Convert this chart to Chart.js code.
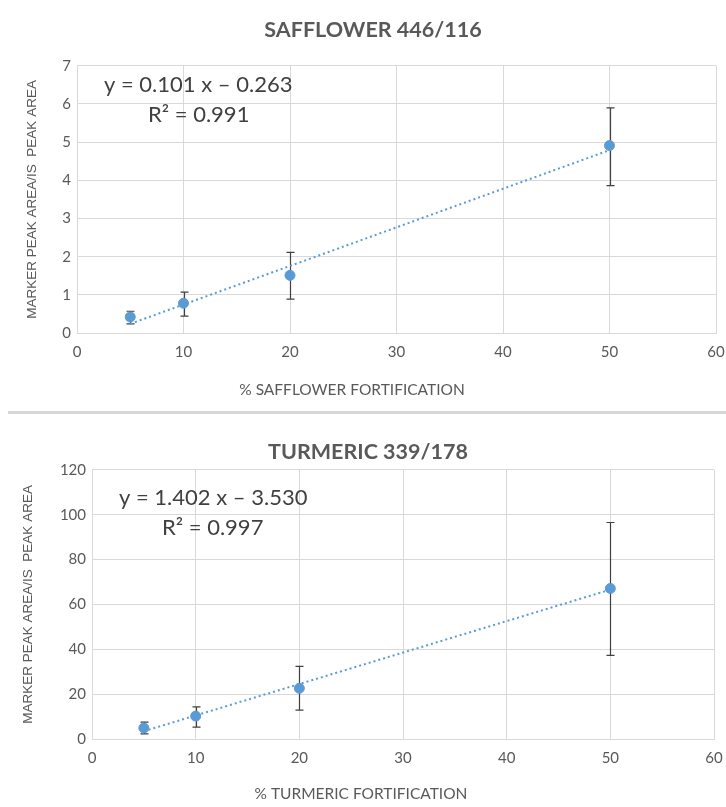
<!DOCTYPE html>
<html>
<head>
<meta charset="utf-8">
<script src="https://cdn.jsdelivr.net/npm/chart.js@4/dist/chart.umd.min.js"></script>
<style>
  html, body { margin: 0; padding: 0; background: #fff; }
  #wrap { position: relative; width: 726px; height: 807px; overflow: hidden; }
  #top { position: absolute; left: 0; top: 0; }
  #bottom { position: absolute; left: 0; top: 415px; }
  #sep { position: absolute; left: 8px; top: 411px; width: 718px; height: 3px; background: #d6d6d6; }
</style>
</head>
<body>
<div id="wrap">
  <canvas id="top" width="726" height="412"></canvas>
  <div id="sep"></div>
  <canvas id="bottom" width="726" height="392"></canvas>
</div>
<script>
'use strict';

// % fortification levels (x)
var fortification = [5, 10, 20, 50];

// safflower 446/116 ratio, mean and error bar ends
var saffMean = [0.42, 0.78, 1.51, 4.91];
var saffLow = [0.24, 0.44, 0.89, 3.86];
var saffHigh = [0.57, 1.07, 2.11, 5.90];
var saffTrendX = [5, 50];
var saffTrendY = [0.24, 4.79];

// turmeric 339/178 ratio
var turmMean = [4.9, 10.2, 22.6, 67.1];
var turmLow = [2.3, 5.3, 12.9, 37.3];
var turmHigh = [7.5, 14.3, 32.4, 96.5];
var turmTrendX = [5, 50];
var turmTrendY = [3.48, 66.57];

var xTicks = [0, 10, 20, 30, 40, 50, 60];

var BLUE = '#5b9bd5';
var GRID = '#d9d9d9';
var TEXT = '#595959';

function pts(xs, ys) {
  return xs.map(function (x, i) { return { x: x, y: ys[i] }; });
}

// error bars under the points, equation text + x title on top
var extras = {
  id: 'extras',
  beforeDatasetsDraw: function (chart, args, opts) {
    var c = chart.ctx, xs = chart.scales.x, ys = chart.scales.y;
    c.save();
    c.strokeStyle = '#404040';
    c.lineWidth = 1.2;
    opts.low.forEach(function (lo, i) {
      var px = Math.round(xs.getPixelForValue(fortification[i])) + 0.5;
      var y1 = ys.getPixelForValue(lo);
      var y2 = ys.getPixelForValue(opts.high[i]);
      c.beginPath();
      c.moveTo(px, y1); c.lineTo(px, y2);
      c.moveTo(px - 4, y1); c.lineTo(px + 4, y1);
      c.moveTo(px - 4, y2); c.lineTo(px + 4, y2);
      c.stroke();
    });
    c.restore();
  },
  afterDraw: function (chart, args, opts) {
    var c = chart.ctx;
    c.save();
    c.fillStyle = '#404040';
    c.font = '22px Lato';
    c.textBaseline = 'middle';
    c.textAlign = 'left';
    c.fillText(opts.eq, opts.eqX, opts.eqY);
    c.fillText(opts.r2, opts.r2X, opts.r2Y);
    // x axis title sits left of the plot centre, as in the original
    c.fillStyle = TEXT;
    c.font = '15.5px Lato';
    c.textAlign = 'center';
    c.fillText(opts.xTitle, opts.xTitleX, opts.xTitleY);
    c.restore();
  }
};

function makeChart(id, o) {
  var ctx = document.getElementById(id).getContext('2d');
  return new Chart(ctx, {
    type: 'scatter',
    data: {
      datasets: [{
        label: 'mean',
        data: pts(fortification, o.mean),
        backgroundColor: BLUE,
        borderColor: BLUE,
        pointRadius: 5,
        order: 1
      }, {
        label: 'trend',
        type: 'line',
        data: pts(o.trendX, o.trendY),
        borderColor: BLUE,
        borderWidth: 2,
        borderDash: [2, 3],
        pointRadius: 0,
        fill: false,
        order: 2
      }]
    },
    options: {
      responsive: false,
      animation: false,
      devicePixelRatio: 1,
      layout: { padding: { left: o.padLeft, right: o.padRight, top: 0, bottom: 0 } },
      plugins: {
        legend: { display: false },
        tooltip: { enabled: false },
        title: {
          display: true,
          text: o.title,
          color: TEXT,
          font: { family: 'Lato', size: 21.5, weight: 'bold' },
          padding: { top: o.titleTop, bottom: o.titleBottom }
        },
        extras: o.notes
      },
      scales: {
        x: {
          type: 'linear',
          min: 0, max: 60,
          afterBuildTicks: function (s) { s.ticks = xTicks.map(function (v) { return { value: v }; }); },
          afterFit: function (s) {
            s.height = o.xHeight;
            s.paddingLeft = 0;
            s.paddingRight = 0;
          },
          grid: { color: GRID, drawTicks: false },
          border: { color: GRID },
          ticks: { color: TEXT, padding: 10, font: { family: 'Lato', size: 15 } }
        },
        y: {
          min: 0, max: o.yMax,
          afterFit: function (s) { s.width = o.yWidth; },
          grid: { color: GRID, drawTicks: false },
          border: { color: GRID },
          ticks: { stepSize: o.yStep, color: TEXT, padding: 6, font: { family: 'Lato', size: 15 } },
          title: {
            display: true,
            text: 'MARKER PEAK AREA/IS  PEAK AREA',
            color: TEXT,
            font: { family: 'Liberation Sans', size: 13.5 },
            padding: { top: o.yTitleTop, bottom: 0 }
          }
        }
      }
    },
    plugins: [extras]
  });
}

makeChart('top', {
  title: 'SAFFLOWER 446/116',
  mean: saffMean, trendX: saffTrendX, trendY: saffTrendY,
  yMax: 7, yStep: 1,
  padLeft: 30, padRight: 10, titleTop: 17, titleBottom: 23,
  xHeight: 79, yWidth: 47, yTitleTop: -6,
  notes: { low: saffLow, high: saffHigh,
    eq: 'y = 0.101 x \u2013 0.263', eqX: 104, eqY: 85,
    r2: 'R\u00b2 = 0.991', r2X: 148, r2Y: 115,
    xTitle: '% SAFFLOWER FORTIFICATION', xTitleX: 352, xTitleY: 390 }
});

makeChart('bottom', {
  title: 'TURMERIC 339/178',
  mean: turmMean, trendX: turmTrendX, trendY: turmTrendY,
  yMax: 120, yStep: 20,
  padLeft: 22, padRight: 12, titleTop: 24, titleBottom: 5,
  xHeight: 68, yWidth: 70, yTitleTop: -2,
  notes: { low: turmLow, high: turmHigh,
    eq: 'y = 1.402 x \u2013 3.530', eqX: 119, eqY: 83,
    r2: 'R\u00b2 = 0.997', r2X: 162, r2Y: 113,
    xTitle: '% TURMERIC FORTIFICATION', xTitleX: 361, xTitleY: 379 }
});
</script>
</body>
</html>
